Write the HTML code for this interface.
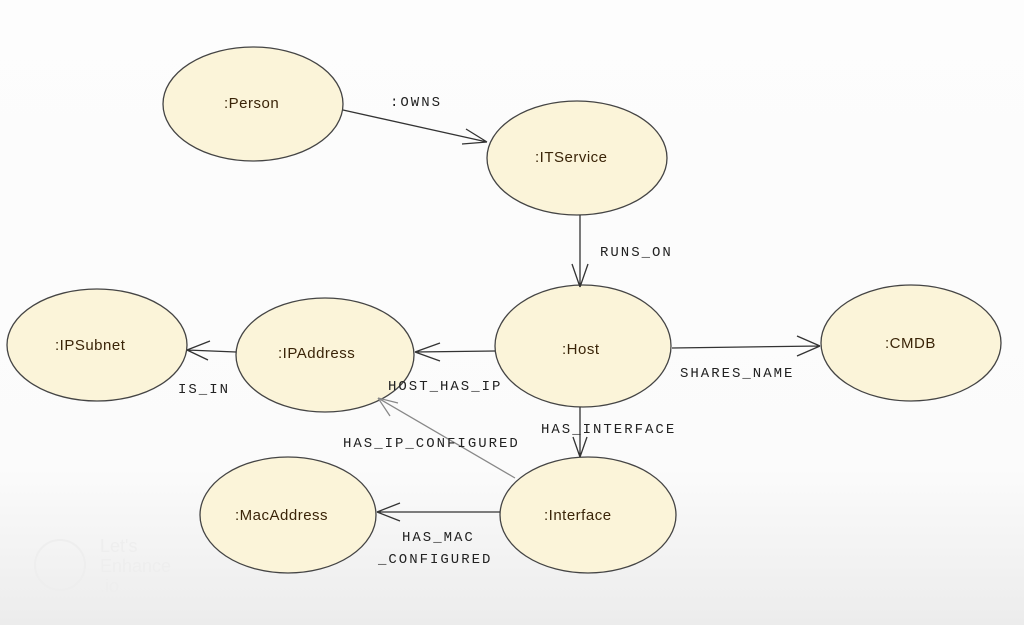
<!DOCTYPE html>
<html><head><meta charset="utf-8"><style>
html,body{margin:0;padding:0;width:1024px;height:625px;overflow:hidden}
body{background:linear-gradient(#fdfdfd 0%,#fbfbfb 75%,#ececec 100%)}
svg text{font-family:"Liberation Mono",monospace;fill:#222}
.n{font-family:"Liberation Sans",sans-serif !important;font-size:15px;fill:#3a2408;letter-spacing:0.5px}
</style></head><body>
<svg width="1024" height="625" viewBox="0 0 1024 625">
<g fill="#fbf4d9" stroke="#444" stroke-width="1.3">
<ellipse cx="253" cy="104" rx="90" ry="57"/>
<ellipse cx="577" cy="158" rx="90" ry="57"/>
<ellipse cx="583" cy="346" rx="88" ry="61"/>
<ellipse cx="911" cy="343" rx="90" ry="58"/>
<ellipse cx="97" cy="345" rx="90" ry="56"/>
<ellipse cx="325" cy="355" rx="89" ry="57"/>
<ellipse cx="588" cy="515" rx="88" ry="58"/>
<ellipse cx="288" cy="515" rx="88" ry="58"/>
</g>
<g stroke="#333" stroke-width="1.3" fill="none">
<path d="M343 110 L487 142 M466 129 L487 142 M462 144 L487 142"/>
<path d="M580 215 L580 287 M572 264 L580 287 M588 264 L580 287"/>
<path d="M672 348 L820 346 M797 336 L820 346 M797 356 L820 346"/>
<path d="M495 351 L415 352 M440 343 L415 352 M440 361 L415 352"/>
<path d="M236 352 L187 350 M210 341 L187 350 M208 360 L187 350"/>
<path d="M580 407 L580 457 M573 437 L580 457 M587 437 L580 457"/>
<path d="M500 512 L377 512 M400 503 L377 512 M400 521 L377 512"/>
<path stroke="#888" d="M515 478 L378 398 M398 403 L378 398 M390 416 L378 398"/>
</g>
<text class="n" x="224" y="108">:Person</text>
<text class="n" x="535" y="162">:ITService</text>
<text class="n" x="562" y="354">:Host</text>
<text class="n" x="885" y="348">:CMDB</text>
<text class="n" x="55" y="350">:IPSubnet</text>
<text class="n" x="278" y="358">:IPAddress</text>
<text class="n" x="544" y="520">:Interface</text>
<text class="n" x="235" y="520">:MacAddress</text>
<g font-size="14" letter-spacing="2">
<text x="390" y="106">:OWNS</text>
<text x="600" y="256">RUNS_ON</text>
<text x="680" y="377">SHARES_NAME</text>
<text x="178" y="393">IS_IN</text>
<text x="388" y="390">HOST_HAS_IP</text>
<text x="541" y="433">HAS_INTERFACE</text>
<text x="343" y="447">HAS_IP_CONFIGURED</text>
<text x="402" y="541">HAS_MAC</text>
<text x="378" y="563">_CONFIGURED</text>
</g>
<text x="100" y="552" font-size="18" style="font-family:'Liberation Sans',sans-serif;fill:#eee">Let's</text>
<text x="100" y="572" font-size="18" style="font-family:'Liberation Sans',sans-serif;fill:#eee">Enhance</text>
<text x="100" y="592" font-size="18" style="font-family:'Liberation Sans',sans-serif;fill:#eee">.io</text>
<circle cx="60" cy="565" r="25" fill="none" stroke="#eee" stroke-width="2"/>
</svg>
</body></html>
